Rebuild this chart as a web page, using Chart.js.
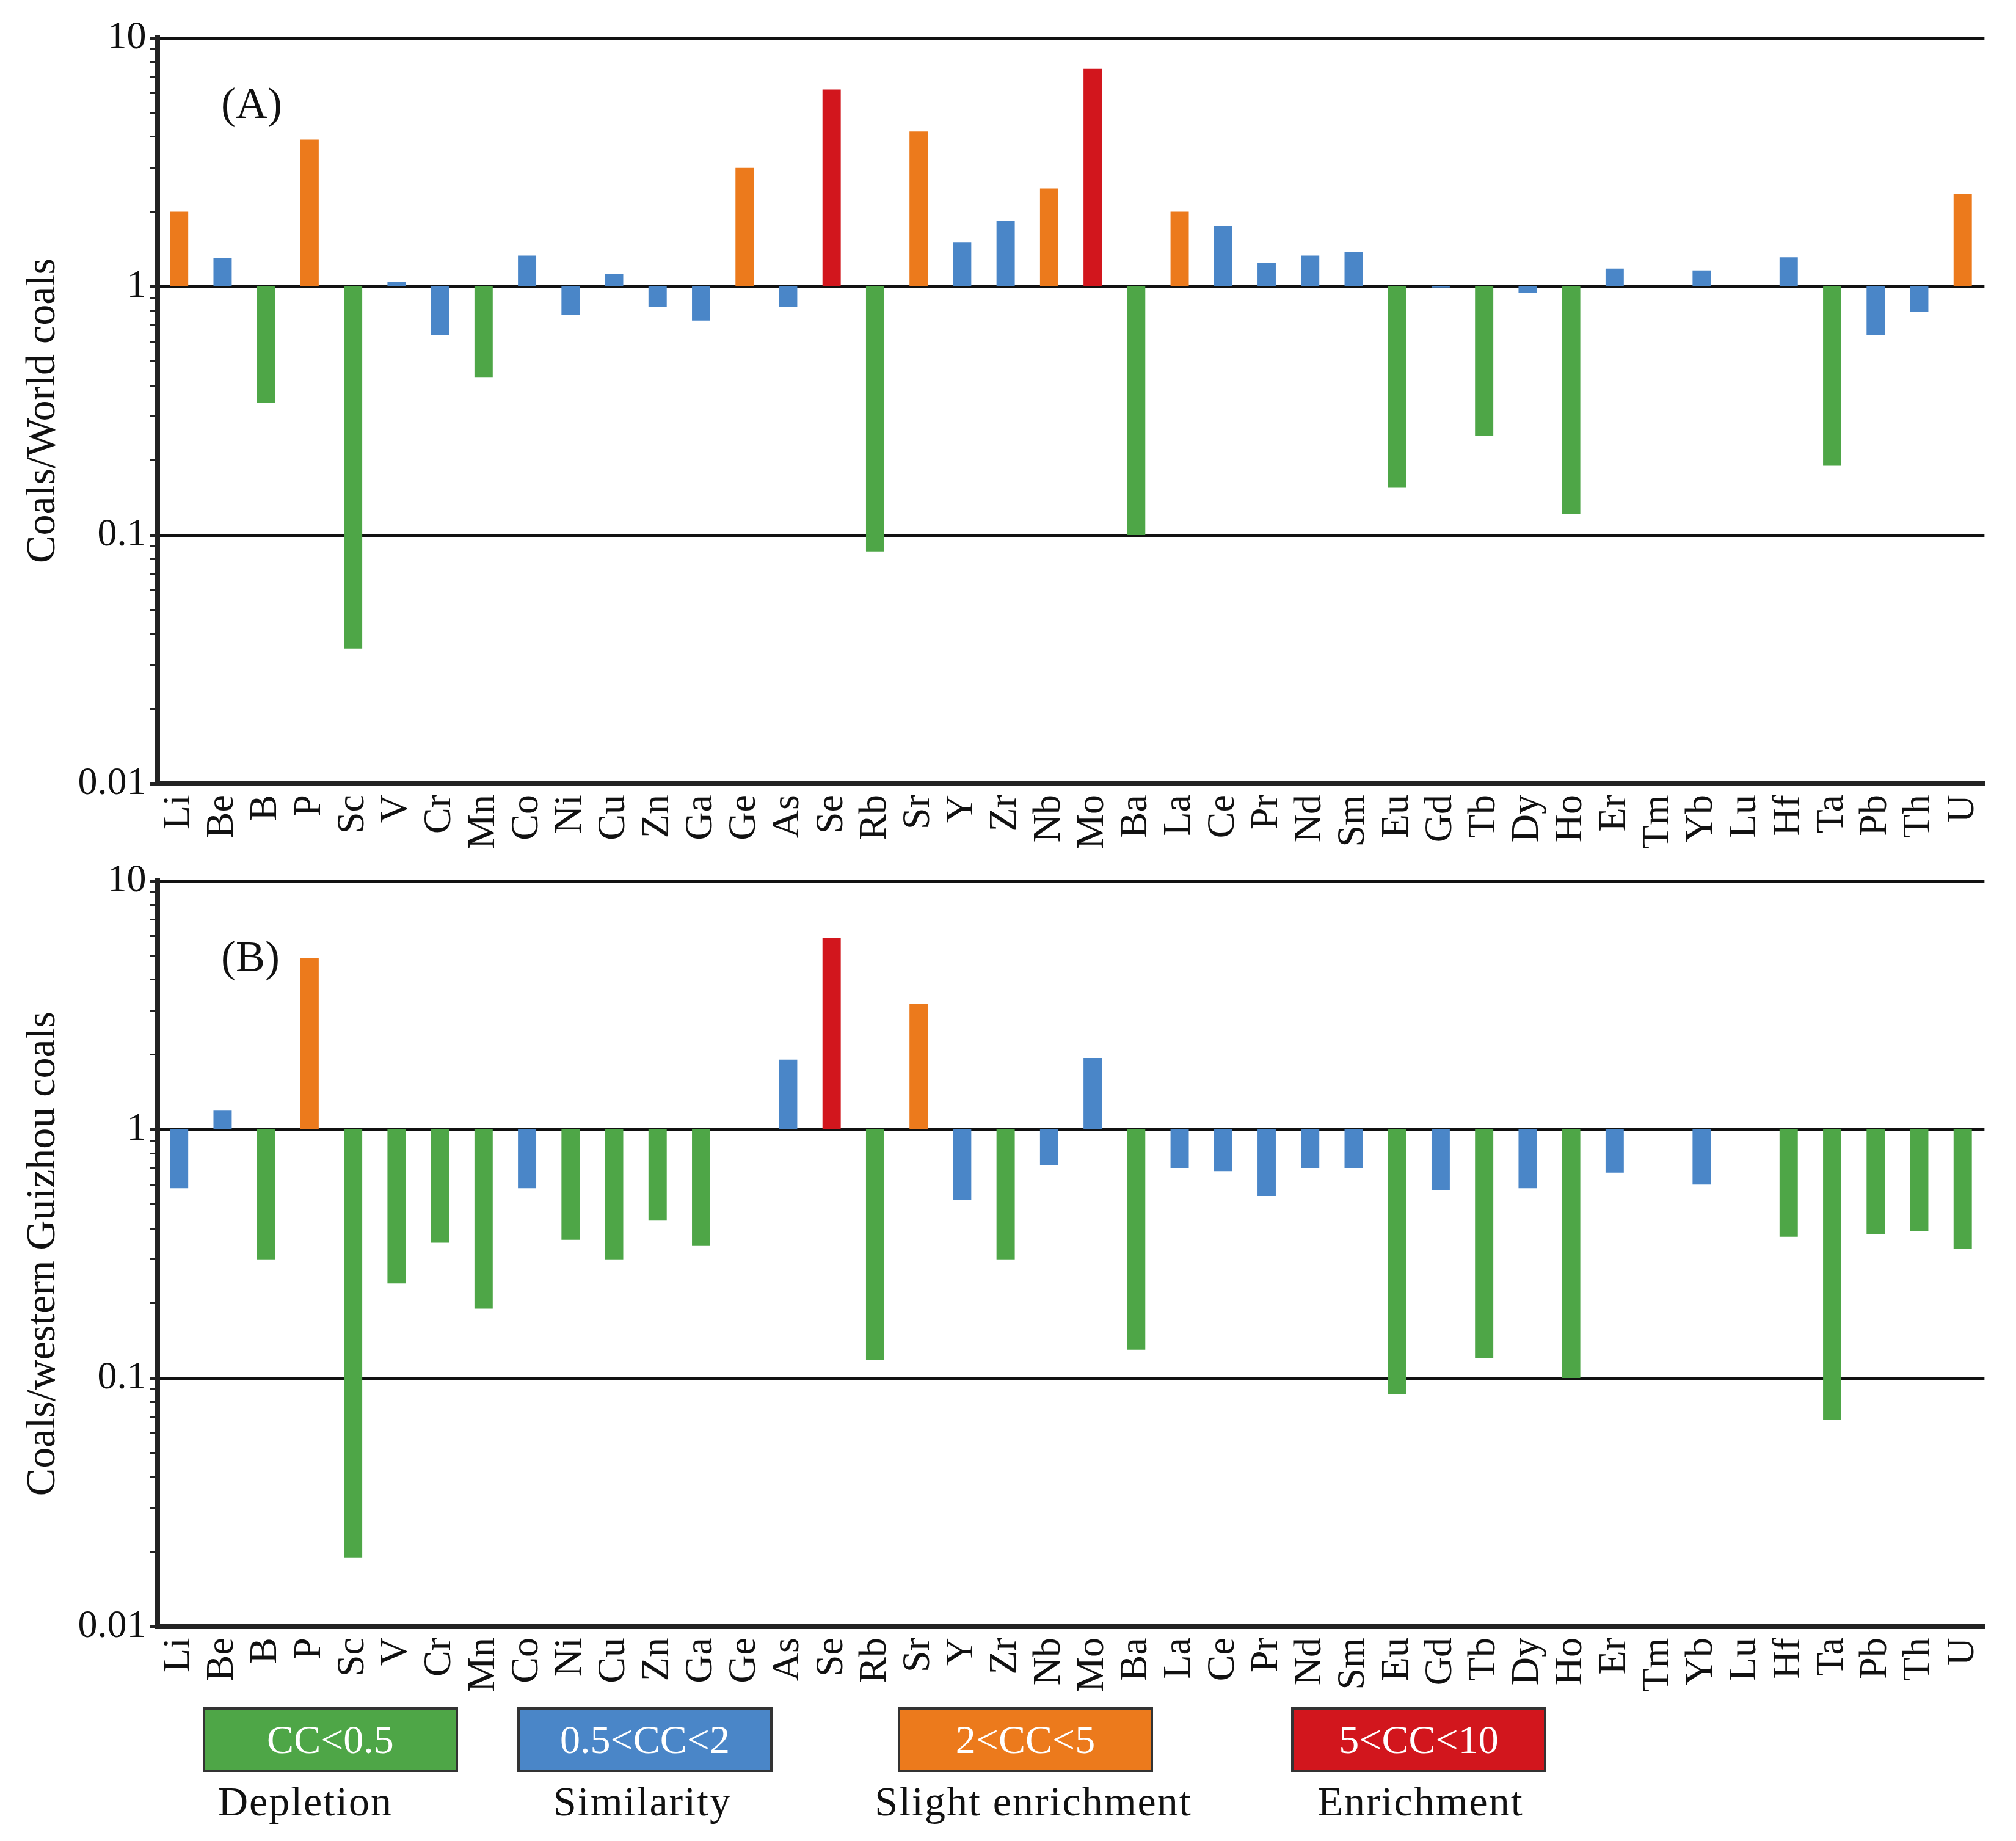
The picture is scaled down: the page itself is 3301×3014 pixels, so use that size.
<!DOCTYPE html>
<html><head><meta charset="utf-8">
<script src="https://cdn.jsdelivr.net/npm/chart.js@4/dist/chart.umd.min.js"></script>
<style>
body{margin:0;background:#fff;width:3301px;height:3014px;position:relative;font-family:"Liberation Serif",serif}
.pane{position:absolute;left:0;width:3301px}
.leg{position:absolute;top:2795px;width:410px;height:98px;border:4px solid #333;color:#fff;font-size:66px;text-align:center;line-height:98px;box-sizing:content-box}
.lt{position:absolute;top:2910px;font-size:68px;color:#111;text-align:center;width:600px;letter-spacing:2px}
.tag{position:absolute;font-size:72px;color:#111}
</style></head><body>
<div class="pane" style="top:0;height:1400px"><canvas id="ca"></canvas></div>
<div class="pane" style="top:1380px;height:1400px"><canvas id="cb"></canvas></div>
<div class="tag" style="left:362px;top:128px">(A)</div>
<div class="tag" style="left:362px;top:1525px">(B)</div>
<div class="leg" style="left:332px;background:#4ea647">CC&lt;0.5</div>
<div class="leg" style="left:847px;background:#4a86c8">0.5&lt;CC&lt;2</div>
<div class="leg" style="left:1470px;background:#ec7a1c">2&lt;CC&lt;5</div>
<div class="leg" style="left:2114px;background:#d2161d">5&lt;CC&lt;10</div>
<div class="lt" style="left:200px">Depletion</div>
<div class="lt" style="left:752px">Similarity</div>
<div class="lt" style="left:1392px">Slight enrichment</div>
<div class="lt" style="left:2026px">Enrichment</div>
<script>
const elements = ['Li','Be','B','P','Sc','V','Cr','Mn','Co','Ni','Cu','Zn','Ga','Ge','As','Se','Rb','Sr','Y','Zr','Nb','Mo','Ba','La','Ce','Pr','Nd','Sm','Eu','Gd','Tb','Dy','Ho','Er','Tm','Yb','Lu','Hf','Ta','Pb','Th','U'];
const worldCoals = [2.0,1.3,0.34,3.9,0.035,1.04,0.64,0.43,1.33,0.77,1.12,0.83,0.73,3.0,0.83,6.2,0.086,4.2,1.5,1.84,2.48,7.5,0.1,2.0,1.75,1.24,1.33,1.38,0.155,0.99,0.25,0.94,0.122,1.18,null,1.16,null,1.31,0.19,0.64,0.79,2.36];
const guizhouCoals = [0.58,1.19,0.30,4.9,0.019,0.24,0.35,0.19,0.58,0.36,0.30,0.43,0.34,null,1.91,5.9,0.118,3.2,0.52,0.30,0.72,1.94,0.13,0.70,0.68,0.54,0.70,0.70,0.086,0.57,0.12,0.58,0.1,0.67,null,0.6,null,0.37,0.068,0.38,0.39,0.33];
const yTicks = [0.01,0.1,1,10];
const yTitles = ['Coals/World coals','Coals/western Guizhou coals'];

function ccColor(v){
  if (v < 0.5) return '#4ea647';
  if (v < 2) return '#4a86c8';
  if (v < 5) return '#ec7a1c';
  return '#d2161d';
}
const font = {family:'"Liberation Serif", serif', size:64};
const isMajor = v => yTicks.some(t => Math.abs(t - v) < 1e-9);

function build(id, values, title){
  new Chart(document.getElementById(id), {
    type:'bar',
    data:{labels:elements, datasets:[{
      data: values.map(v => v == null ? null : [1, v]),
      backgroundColor: values.map(v => v == null ? 'transparent' : ccColor(v)),
      barPercentage:0.42, categoryPercentage:1
    }]},
    options:{
      responsive:false, animation:false, devicePixelRatio:1,
      layout:{padding:{top:62,right:40,left:20}},
      plugins:{legend:{display:false}, tooltip:{enabled:false}},
      scales:{
        x:{grid:{display:false}, border:{color:'#222',width:8},
           ticks:{color:'#111',font,minRotation:90,maxRotation:90,autoSkip:false,padding:10}},
        y:{type:'logarithmic', min:0.01, max:10,
           afterBuildTicks: ax => { const t = []; [0.01,0.1,1].forEach(d => { for (let k=1;k<=9;k++) t.push({value:+(d*k).toPrecision(2)}); }); t.push({value:10}); ax.ticks = t; },
           ticks:{color:'#111',font,padding:6,autoSkip:false,
             callback: v => isMajor(v) ? String(+v.toPrecision(2)) : ''},
           grid:{drawOnChartArea:true,
             color: c => (c.tick && isMajor(c.tick.value) && c.tick.value > 0.05) ? '#111' : 'transparent',
             lineWidth: c => (c.tick && isMajor(c.tick.value)) ? 5 : 3,
             drawTicks:true, tickLength:12, tickColor:'#222'},
           border:{color:'#222',width:8},
           title:{display:true,text:title,color:'#111',font:{family:'"Liberation Serif", serif',size:68},padding:10}}
      }
    }
  });
}
const ca = document.getElementById('ca'), cb = document.getElementById('cb');
ca.width = 3301; ca.height = 1400; cb.width = 3301; cb.height = 1400;
build('ca', worldCoals, yTitles[0]);
build('cb', guizhouCoals, yTitles[1]);
</script>
</body></html>
